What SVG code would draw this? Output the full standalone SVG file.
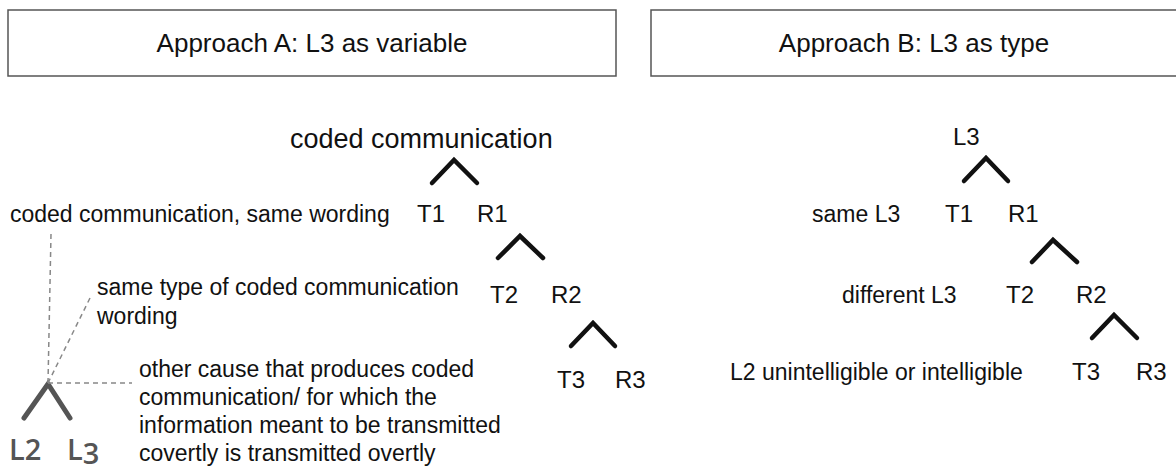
<svg xmlns="http://www.w3.org/2000/svg" width="1176" height="467" viewBox="0 0 1176 467">
<style>
.box{fill:#fff;stroke:#555;stroke-width:1.5}
.title{font-family:"Liberation Sans",Arial,sans-serif;font-size:26px;fill:#111;text-anchor:middle}
.lbl{font-family:"Liberation Sans",Arial,sans-serif;font-size:23px;fill:#111}
.node{font-family:"Liberation Sans",Arial,sans-serif;font-size:24px;fill:#111}
.root{font-family:"Liberation Sans",Arial,sans-serif;font-size:27px;fill:#111}
.caret{fill:none;stroke:#111;stroke-width:4.5;stroke-linecap:round;stroke-linejoin:miter}
.gcaret{fill:none;stroke:#555;stroke-width:5;stroke-linecap:round;stroke-linejoin:miter}
.dash{fill:none;stroke:#888;stroke-width:1.5;stroke-dasharray:5 4}
.lg{font-family:"Open Sans","DejaVu Sans",sans-serif;font-weight:600;font-size:29px;fill:#555}
</style>
<rect width="1176" height="467" fill="#fff"/>
<g id="headerA"><rect class="box" x="8" y="10" width="608" height="66"/><text class="title" x="312" y="52">Approach A: L3 as variable</text></g>
<g id="headerB"><rect class="box" x="651" y="10" width="530" height="66"/><text class="title" x="914" y="52">Approach B: L3 as type</text></g>

<g id="connectors">
<polyline class="caret" points="432,183 454,160 477,183"/>
<polyline class="caret" points="498,258 520,236 543,258"/>
<polyline class="caret" points="571,346 593,323 615,346"/>
<polyline class="caret" points="964,181 986,158 1008,181"/>
<polyline class="caret" points="1032,262 1053,240 1077,262"/>
<polyline class="caret" points="1092,338 1114,315 1137,338"/>
<polyline class="gcaret" points="24,418 48,384 70,418"/>
<line class="dash" x1="51" y1="234" x2="48" y2="383"/>
<line class="dash" x1="90" y1="298" x2="48" y2="383"/>
<line class="dash" x1="48" y1="383" x2="132" y2="383"/>
</g>

<g id="treeA">
<text id="a-root" class="root" x="290" y="148">coded communication</text>
<text id="a-t1" class="node" x="417" y="222">T1</text>
<text id="a-r1" class="node" x="477" y="222">R1</text>
<text id="a-t2" class="node" x="490" y="303">T2</text>
<text id="a-r2" class="node" x="551" y="303">R2</text>
<text id="a-t3" class="node" x="557" y="388">T3</text>
<text id="a-r3" class="node" x="615" y="388">R3</text>
</g>
<g id="labelsA">
<text class="lbl" x="10" y="222">coded communication, same wording</text>
<text class="lbl" x="97" y="295">same type of coded communication</text>
<text class="lbl" x="97" y="324">wording</text>
<text class="lbl" x="139" y="377">other cause that produces coded</text>
<text class="lbl" x="139" y="405">communication/ for which the</text>
<text class="lbl" x="139" y="433">information meant to be transmitted</text>
<text class="lbl" x="139" y="461">covertly is transmitted overtly</text>
</g>
<g id="legend">
<text class="lg" x="9" y="460">L2</text>
<text class="lg" x="67" y="460">L<tspan dy="4">3</tspan></text>
</g>

<g id="treeB">
<text id="b-root" class="node" x="953" y="145">L3</text>
<text id="b-t1" class="node" x="945" y="222">T1</text>
<text id="b-r1" class="node" x="1008" y="222">R1</text>
<text id="b-t2" class="node" x="1006" y="303">T2</text>
<text id="b-r2" class="node" x="1076" y="303">R2</text>
<text id="b-t3" class="node" x="1072" y="380">T3</text>
<text id="b-r3" class="node" x="1136" y="380">R3</text>
</g>
<g id="labelsB">
<text class="lbl" x="812" y="222">same L3</text>
<text class="lbl" x="842" y="303">different L3</text>
<text class="lbl" x="730" y="380">L2 unintelligible or intelligible</text>
</g>
</svg>
